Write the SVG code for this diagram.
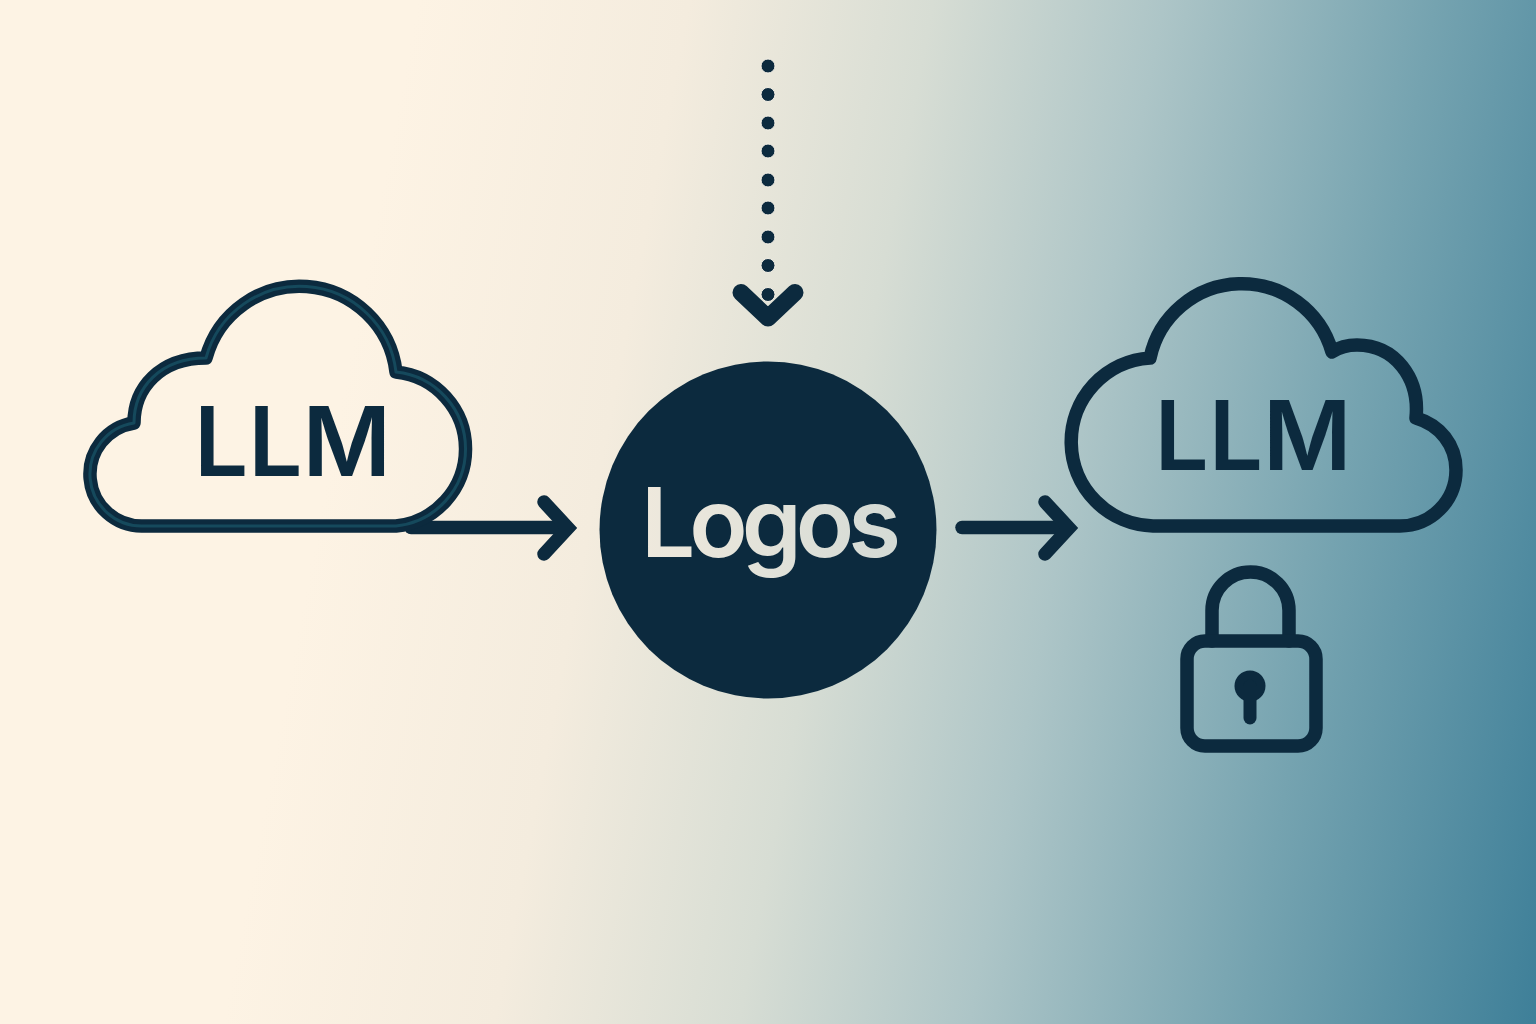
<svg xmlns="http://www.w3.org/2000/svg" width="1536" height="1024" viewBox="0 0 1536 1024">
<style>
.ln{fill:none;stroke:#0c2a3e;stroke-width:13.500;stroke-linecap:round;stroke-linejoin:round}
.hd{fill:none;stroke:#0c2a3e;stroke-width:13.500;stroke-linecap:round;stroke-linejoin:miter}
.hl{fill:none;stroke:#15495c;stroke-width:3;stroke-linecap:round;stroke-linejoin:round}
.dot{fill:#0c2a3e;stroke:#f6f2e8;stroke-width:1}
.llm{font-family:"Inter","Noto Sans",sans-serif;font-weight:600;font-size:96px;fill:#0c2a3e;text-anchor:middle}
.logos{font-family:"Inter","Noto Sans",sans-serif;font-weight:600;font-size:96px;letter-spacing:-6px;fill:url(#txt);text-anchor:middle}
</style>
<defs>
<linearGradient id="bg" gradientUnits="userSpaceOnUse" x1="330" y1="460" x2="1640" y2="710">
<stop offset="0" stop-color="#fdf3e4"/>
<stop offset="0.2" stop-color="#f4ecde"/>
<stop offset="0.38" stop-color="#d7ddd4"/>
<stop offset="0.55" stop-color="#adc5c7"/>
<stop offset="0.75" stop-color="#75a3b0"/>
<stop offset="1" stop-color="#367a95"/>
</linearGradient>
<linearGradient id="txt" gradientUnits="userSpaceOnUse" x1="640" y1="0" x2="900" y2="0">
<stop offset="0" stop-color="#efe9dd"/>
<stop offset="1" stop-color="#d4dad5"/>
</linearGradient>
</defs>
<rect width="1536" height="1024" fill="url(#bg)"/>
<g id="connectors">
<path class="ln" d="M411 527.500H565"/>
<path class="hd" d="M544 502L568 528L544 554"/>
<path class="ln" d="M962 527.500H1065"/>
<path class="hd" d="M1045 502L1069 528L1045 554"/>
<g id="dotted">
<circle class="dot" cx="768" cy="66" r="7"/><circle class="dot" cx="768" cy="94.500" r="7"/><circle class="dot" cx="768" cy="123" r="7"/><circle class="dot" cx="768" cy="151" r="7"/><circle class="dot" cx="768" cy="180" r="7"/><circle class="dot" cx="768" cy="208" r="7"/><circle class="dot" cx="768" cy="237" r="7"/><circle class="dot" cx="768" cy="265.500" r="7"/>
<path d="M741 292.500L768 318L795 292.500" fill="none" stroke="#0c2a3e" stroke-width="17" stroke-linecap="round" stroke-linejoin="round"/>
<circle class="dot" cx="768" cy="294.500" r="7"/>
</g>
</g>
<g id="cloud-left">
<path class="ln" d="M143 526A51.800 51.800 0 0 1 134 423C134 388 160 358 206 358A97 97 0 0 1 396 372A77.400 77.400 0 0 1 396 526Z"/>
<path class="hl" d="M143 526A51.800 51.800 0 0 1 134 423C134 388 160 358 206 358A97 97 0 0 1 396 372A77.400 77.400 0 0 1 396 526Z"/>
<text class="llm" x="292.500" y="476">LLM</text>
</g>
<g id="logos">
<circle cx="768" cy="530" r="168.500" fill="#0c2a3e"/>
<text class="logos" x="768" y="557">Logos</text>
</g>
<g id="cloud-right">
<path class="ln" d="M1153 526A84.100 84.100 0 0 1 1150 358A93.800 93.800 0 0 1 1332 352C1338 348 1348 345 1357 345C1395 345 1420 378 1416 418C1440 425 1456 445 1456 470A56 56 0 0 1 1400 526Z"/>
<text class="llm" x="1253" y="470">LLM</text>
</g>
<g id="lock">
<path class="ln" d="M1212 641V610.500A38.500 38.500 0 0 1 1289 610.500V641"/>
<rect class="ln" x="1187" y="641" width="129" height="105" rx="18"/>
<circle cx="1250" cy="686" r="15.500" fill="#0c2a3e"/>
<path d="M1250 686V718" stroke="#0c2a3e" stroke-width="13" stroke-linecap="round"/>
</g>
</svg>
